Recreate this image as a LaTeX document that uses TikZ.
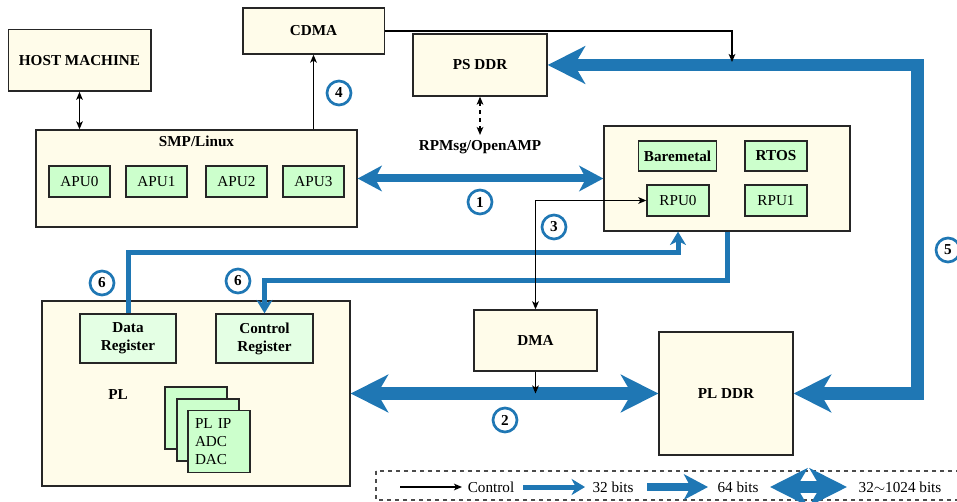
\documentclass[tikz,border=0pt]{standalone}
\usepackage{fontspec}
\setmainfont{Liberation Serif}
\usetikzlibrary{arrows.meta,positioning}
\definecolor{busblue}{RGB}{31,119,180}
\definecolor{creamfill}{RGB}{255,252,234}
\definecolor{unitgreen}{RGB}{204,255,204}
\definecolor{reggreen}{RGB}{228,255,228}
\tikzset{
  blockbox/.style={draw=black!85, fill=creamfill, line width=1pt, font=\bfseries},
  unitbox/.style={draw=black!85, fill=unitgreen, line width=1pt},
  regbox/.style={draw=black!85, fill=reggreen, line width=1pt, font=\bfseries, align=center},
  stepnum/.style={circle, draw=busblue, line width=2pt, fill=white, inner sep=0pt, minimum size=18pt, font=\bfseries},
  ctrltip/.tip={Stealth[length=6pt,width=5pt,inset=1.5pt]},
  tip32/.tip={Stealth[length=10pt,width=12pt,inset=3pt]},
  tip64/.tip={Stealth[length=18pt,width=19pt,inset=5pt]},
  tipbig/.tip={Stealth[length=28pt,width=28pt,inset=8pt]},
  ctrlline/.style={line width=0.9pt, -{ctrltip}},
  ctrlboth/.style={line width=0.9pt, {ctrltip}-{ctrltip}},
  bus32/.style={draw=busblue, line width=3.75pt},
  bus64/.style={draw=busblue, line width=6pt},
  busbig/.style={draw=busblue, line width=9.5pt}
}
\begin{document}
\fontsize{11.4pt}{13.5pt}\selectfont
\begin{tikzpicture}[x=0.75pt,y=-0.75pt]
  \clip (0,0) rectangle (957,502);
  % PS side
  \node[blockbox, minimum width=107pt, minimum height=46pt] (HOST) at (79.5,60.5) {HOST MACHINE};
  \node[blockbox, minimum width=106pt, minimum height=34.5pt] (CDMA) at (313.5,31) {CDMA};
  \node[blockbox, minimum width=100.5pt, minimum height=46.5pt] (PSDDR) at (480,65) {PS DDR};
  \node[font=\bfseries] (RPMSG) at (480,147) {RPMsg/OpenAMP};
  \node[blockbox, minimum width=240.75pt, minimum height=72.75pt] (SMP) at (196.5,178.5) {};
  \node[font=\bfseries] (SMPtitle) at (196.5,141) {SMP/Linux};
  \foreach \i/\x in {0/79.5,1/156.5,2/236.5,3/313.5}
    \node[unitbox, minimum width=45.75pt, minimum height=23.25pt] (APU\i) at (\x,181.5) {APU\i};
  \node[blockbox, minimum width=184.5pt, minimum height=78.75pt] (RPU) at (727,178.5) {};
  \node[unitbox, font=\bfseries, minimum width=57.75pt, minimum height=22.5pt] (BARE) at (677.5,156) {Baremetal};
  \node[unitbox, font=\bfseries, minimum width=46.5pt, minimum height=22.5pt] (RTOS) at (776,156) {RTOS};
  \node[unitbox, minimum width=46.5pt, minimum height=23.25pt] (RPU0) at (678,200.5) {RPU0};
  \node[unitbox, minimum width=46.5pt, minimum height=23.25pt] (RPU1) at (776,200.5) {RPU1};
  % PL side
  \node[blockbox, minimum width=231pt, minimum height=138.75pt] (PL) at (196,393.5) {};
  \node[font=\bfseries] (PLtitle) at (118,395) {PL};
  \node[regbox, minimum width=72pt, minimum height=36.75pt] (DataReg) at (128,338.5) {Data\\Register};
  \node[regbox, minimum width=72.75pt, minimum height=36.75pt] (CtrlReg) at (264.5,338.5) {Control\\Register};
  \node[unitbox, minimum size=46.5pt] (IPback) at (196,418) {};
  \node[unitbox, minimum size=46.5pt] (IPmid) at (208,430) {};
  \node[unitbox, minimum size=46.5pt, text width=36pt, align=left, inner sep=5pt] (IPfront) at (219,441.5) {PL IP\\ADC\\DAC};
  \node[blockbox, minimum width=92.25pt, minimum height=45.75pt] (DMA) at (535.5,340.5) {DMA};
  \node[blockbox, minimum width=100.5pt, minimum height=92.25pt] (PLDDR) at (726,393.5) {PL DDR};
  % buses
  \draw[bus64, {tip64}-{tip64}] (SMP.east) -- (RPU.west);
  \draw[busbig, {tipbig}-{tipbig}] (PL.east) -- (PLDDR.west);
  \draw[busbig, {tipbig}-{tipbig}] (PLDDR.east) -- ++(124,0) |- (PSDDR.east);
  \draw[bus32, -{tip32}] (DataReg.north) -- ++(0,-61) -| (RPU0 |- RPU.south);
  \draw[bus32, -{tip32}] (RPU.south) -- ++(0,49) -| (CtrlReg.north);
  % control lines
  \coordinate (CDMAend) at (732,62);
  \draw[ctrlboth] (HOST.south) -- (HOST.south |- SMP.north);
  \draw[ctrlline] (SMP.north -| CDMA.south) -- (CDMA.south);
  \draw[ctrlline] (CDMA.east) -| (CDMAend);
  \draw[ctrlboth, dashed] (PSDDR.south) -- (RPMSG.north);
  \draw[ctrlboth] (RPU0.west) -| (DMA.north);
  \draw[ctrlline] (DMA.south) -- (DMA.south |- PL.east);
  % step numbers
  \node[stepnum] (S1) at (480,202) {1};
  \node[stepnum] (S2) at (505,420) {2};
  \node[stepnum] (S3) at (554,227) {3};
  \node[stepnum] (S4) at (339,93) {4};
  \node[stepnum] (S5) at (948,250) {5};
  \node[stepnum] (S6a) at (102,283) {6};
  \node[stepnum] (S6b) at (238,281) {6};
  % legend
  \draw[dashed, line width=0.8pt, draw=black!70] (376,471) rectangle (975,500);
  \coordinate (LegA1) at (400,487);
  \coordinate (LegA2) at (462,487);
  \coordinate (LegB1) at (523,487);
  \coordinate (LegB2) at (585,487);
  \coordinate (LegC1) at (647,487);
  \coordinate (LegC2) at (708,487);
  \coordinate (LegD1) at (770,487);
  \coordinate (LegD2) at (847,487);
  \draw[ctrlline] (LegA1) -- (LegA2);
  \draw[bus32, -{tip32}] (LegB1) -- (LegB2);
  \draw[bus64, -{tip64}] (LegC1) -- (LegC2);
  \draw[busbig, {tipbig}-{tipbig}] (LegD1) -- (LegD2);
  \node (LegCtrl) at (491,487) {Control};
  \node (Leg32) at (613,487) {32 bits};
  \node (Leg64) at (738,487) {64 bits};
  \node (LegWide) at (900,487) {32$\sim$1024 bits};
\end{tikzpicture}
\end{document}
